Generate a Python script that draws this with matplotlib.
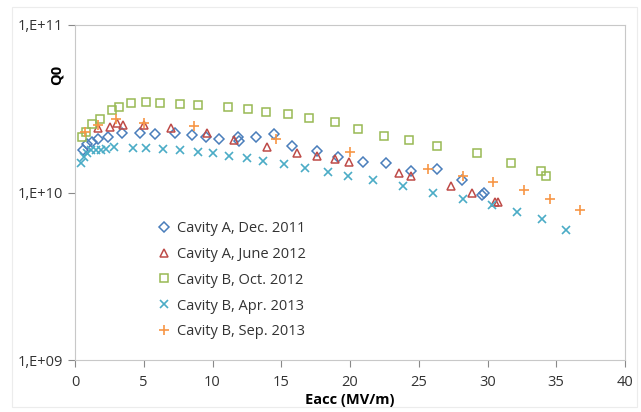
import matplotlib.pyplot as plt
from matplotlib.patches import Rectangle

plt.rcParams['font.family'] = ['Open Sans', 'DejaVu Sans']

# Cavity A, Dec. 2011
a11_x = [0.58, 0.87, 1.24, 1.67, 2.4, 3.42, 4.73, 5.82, 7.27, 8.51, 9.53, 10.47, 11.85,
         11.93, 13.16, 14.47, 15.78, 17.6, 19.13, 20.95, 22.62, 24.44, 26.33, 28.15,
         29.6, 29.75]
a11_q = [1.80e10, 1.96e10, 2.01e10, 2.10e10, 2.13e10, 2.28e10, 2.28e10, 2.24e10, 2.28e10,
         2.21e10, 2.13e10, 2.10e10, 2.13e10, 2.04e10, 2.13e10, 2.24e10, 1.90e10, 1.78e10,
         1.64e10, 1.53e10, 1.49e10, 1.35e10, 1.39e10, 1.19e10, 0.96e10, 1.0e10]

# Cavity A, June 2012
a12_x = [1.67, 2.55, 3.05, 3.49, 5.02, 6.98, 9.6, 11.56, 13.96, 16.15, 17.6, 18.91,
         19.93, 23.56, 24.44, 27.35, 28.87, 30.55, 30.76]
a12_q = [2.44e10, 2.47e10, 2.61e10, 2.54e10, 2.54e10, 2.44e10, 2.28e10, 2.07e10, 1.88e10,
         1.73e10, 1.66e10, 1.59e10, 1.53e10, 1.30e10, 1.26e10, 1.09e10, 1.0e10, 0.88e10,
         0.88e10]

# Cavity B, Oct. 2012
b12_x = [0.51, 0.8, 1.24, 1.82, 2.69, 3.2, 4.07, 5.16, 6.18, 7.64, 8.95, 11.13, 12.58,
         13.89, 15.49, 17.02, 18.91, 20.58, 22.47, 24.29, 26.33, 29.24, 31.71, 33.89, 34.25]
b12_q = [2.15e10, 2.31e10, 2.58e10, 2.75e10, 3.12e10, 3.25e10, 3.44e10, 3.49e10, 3.44e10,
         3.39e10, 3.34e10, 3.25e10, 3.16e10, 3.04e10, 2.95e10, 2.79e10, 2.65e10, 2.40e10,
         2.18e10, 2.07e10, 1.90e10, 1.71e10, 1.51e10, 1.35e10, 1.26e10]

# Cavity B, Apr. 2013
b13a_x = [0.44, 0.65, 0.87, 1.16, 1.53, 1.89, 2.25, 2.84, 4.22, 5.16, 6.4, 7.64, 8.95,
          10.04, 11.2, 12.51, 13.67, 15.2, 16.73, 18.4, 19.85, 21.67, 23.85, 26.04,
          28.22, 30.33, 32.15, 33.96, 35.71]
b13a_q = [1.51e10, 1.64e10, 1.71e10, 1.80e10, 1.80e10, 1.80e10, 1.83e10, 1.88e10, 1.85e10,
          1.85e10, 1.83e10, 1.80e10, 1.75e10, 1.71e10, 1.66e10, 1.61e10, 1.55e10, 1.47e10,
          1.41e10, 1.33e10, 1.26e10, 1.18e10, 1.09e10, 1.0e10, 0.92e10, 0.84e10, 0.77e10,
          0.69e10, 0.60e10]

# Cavity B, Sep. 2013
b13s_x = [0.73, 1.67, 2.98, 5.02, 8.65, 14.62, 20.0, 25.67, 28.22, 30.4, 32.65, 34.55, 36.73]
b13s_q = [2.31e10, 2.54e10, 2.75e10, 2.61e10, 2.51e10, 2.10e10, 1.75e10, 1.39e10, 1.26e10,
          1.15e10, 1.03e10, 0.92e10, 0.79e10]

fig = plt.figure(figsize=(6.41, 4.12), dpi=100)
ax = fig.add_axes([75 / 641, 1 - 360 / 412, 550 / 641, 335 / 412])

fig.patches.append(Rectangle((12 / 641, 5 / 412), 625 / 641, 400 / 412,
                             transform=fig.transFigure, fill=False,
                             edgecolor='#ececec', lw=0.8))

ax.plot(a11_x, a11_q, ls='none', marker='D', ms=5, mfc='none', mec='#4a7ebb',
        mew=1.1, label='Cavity A, Dec. 2011')
ax.plot(a12_x, a12_q, ls='none', marker='^', ms=6, mfc='none', mec='#be4b48',
        mew=1.1, label='Cavity A, June 2012')
ax.plot(b12_x, b12_q, ls='none', marker='s', ms=6, mfc='none', mec='#98b954',
        mew=1.1, label='Cavity B, Oct. 2012')
ax.plot(b13a_x, b13a_q, ls='none', marker='x', ms=5.5, mec='#4bacc6',
        mew=1.2, label='Cavity B, Apr. 2013')
ax.plot(b13s_x, b13s_q, ls='none', marker='+', ms=6.5, mec='#f79646',
        mew=1.2, label='Cavity B, Sep. 2013')

ax.set_yscale('log')
ax.set_xlim(0, 40)
ax.set_ylim(1e9, 1e11)
ax.set_xticks(range(0, 41, 5))
ax.set_yticks([1e9, 1e10, 1e11])
ax.set_yticklabels(['1,E+09', '1,E+10', '1,E+11'])
ax.yaxis.set_minor_locator(plt.NullLocator())
ax.tick_params(labelsize=10.5, colors='#898989', labelcolor='#333333', length=5, width=0.8)
ax.tick_params(axis='x', pad=6)

for side in ['left', 'bottom', 'right', 'top']:
    ax.spines[side].set_color('#c8c8c8')
    ax.spines[side].set_linewidth(0.8)

ax.set_xlabel('Eacc (MV/m)', fontsize=10.5, fontweight='bold', labelpad=2)
fig.text(57 / 641, 1 - 75 / 412, 'Q0', rotation=90, fontsize=10.5, fontweight='bold',
         ha='center', va='center')

ax.legend(loc='upper left', bbox_to_anchor=(0.13, 0.455), frameon=False, fontsize=10.5,
          handlelength=0.6, handletextpad=0.6, labelspacing=0.75,
          labelcolor='#333333')

fig.savefig('out.png', dpi=100)
